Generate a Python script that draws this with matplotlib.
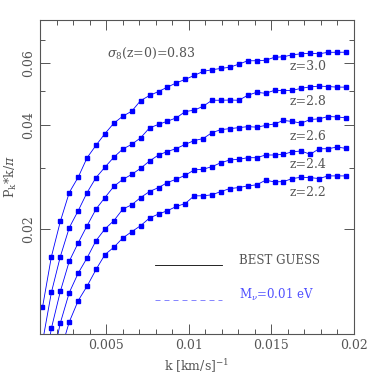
import matplotlib
matplotlib.use("Agg")
import matplotlib.pyplot as plt
from matplotlib.ticker import FixedLocator, MultipleLocator, NullFormatter

plt.rcParams["font.family"] = ["DejaVu Serif"]
plt.rcParams["mathtext.fontset"] = "dejavuserif"

# wavenumbers shared by every redshift curve
k = [0.00115, 0.00169, 0.00223, 0.00277, 0.00331, 0.00385, 0.00439, 0.00493,
     0.00547, 0.00601, 0.00655, 0.00709, 0.00763, 0.00817, 0.00871, 0.00925,
     0.00979, 0.01033, 0.01087, 0.01141, 0.01195, 0.01249, 0.01303, 0.01357,
     0.01411, 0.01465, 0.01519, 0.01573, 0.01627, 0.01681, 0.01735, 0.01789,
     0.01843, 0.01897, 0.01951]

pk_z30 = [0.01193, 0.01670, 0.02108, 0.02552, 0.02824, 0.03214, 0.03490, 0.03770,
          0.04040, 0.04231, 0.04373, 0.04692, 0.04853, 0.04982, 0.05129, 0.05276,
          0.05400, 0.05543, 0.05691, 0.05756, 0.05805, 0.05852, 0.05972, 0.06108,
          0.06108, 0.06128, 0.06250, 0.06271, 0.06354, 0.06396, 0.06418, 0.06396,
          0.06460, 0.06460, 0.06464]
pk_z28 = [0.00948, 0.01318, 0.01670, 0.02022, 0.02262, 0.02552, 0.02817, 0.03019,
          0.03225, 0.03404, 0.03511, 0.03667, 0.03917, 0.04006, 0.04094, 0.04184,
          0.04364, 0.04402, 0.04519, 0.04702, 0.04702, 0.04708, 0.04702, 0.04859,
          0.04956, 0.04923, 0.05021, 0.05011, 0.05021, 0.05089, 0.05139, 0.05162,
          0.05150, 0.05129, 0.05129]
pk_z26 = [0.00737, 0.01039, 0.01326, 0.01619, 0.01828, 0.02049, 0.02287, 0.02469,
          0.02658, 0.02784, 0.02877, 0.02997, 0.03145, 0.03272, 0.03348, 0.03415,
          0.03511, 0.03600, 0.03648, 0.03795, 0.03871, 0.03896, 0.03922, 0.03948,
          0.03935, 0.03979, 0.04021, 0.04113, 0.04086, 0.04040, 0.04140, 0.04157,
          0.04222, 0.04211, 0.04184]
pk_z24 = [0.00567, 0.00814, 0.01076, 0.01315, 0.01496, 0.01656, 0.01856, 0.02005,
          0.02118, 0.02287, 0.02353, 0.02469, 0.02569, 0.02637, 0.02726, 0.02788,
          0.02862, 0.02964, 0.02978, 0.03029, 0.03110, 0.03166, 0.03180, 0.03214,
          0.03214, 0.03272, 0.03272, 0.03287, 0.03344, 0.03359, 0.03287, 0.03410,
          0.03410, 0.03449, 0.03419]
pk_z22 = [0.00465, 0.00668, 0.00887, 0.01083, 0.01247, 0.01373, 0.01533, 0.01692,
          0.01776, 0.01889, 0.01969, 0.02049, 0.02156, 0.02213, 0.02262, 0.02327,
          0.02373, 0.02497, 0.02497, 0.02514, 0.02569, 0.02620, 0.02637, 0.02667,
          0.02685, 0.02769, 0.02738, 0.02744, 0.02799, 0.02824, 0.02817, 0.02799,
          0.02849, 0.02849, 0.02849]

series = [pk_z30, pk_z28, pk_z26, pk_z24, pk_z22]
labels = ["z=3.0", "z=2.8", "z=2.6", "z=2.4", "z=2.2"]
label_y = [0.0588, 0.0467, 0.0371, 0.0308, 0.0256]

grey = "#555555"
blue = "#0000ff"

fig = plt.figure(figsize=(3.74, 3.74), dpi=100)
ax = fig.add_axes([0.107, 0.107, 0.8395, 0.8395])

for pk in series:
    ax.plot(k, pk, color=blue, lw=0.6, marker="s", ms=3.4, mec=blue, mfc=blue)

for lab, yl in zip(labels, label_y):
    ax.text(0.0172, yl, lab, color=grey, fontsize=9, ha="center", va="center")

ax.text(0.0077, 0.0641, r"$\sigma_8$(z=0)=0.83", color=grey, fontsize=9,
        ha="center", va="center")

# legend drawn by hand like the original
ax.plot([0.00797, 0.01202], [0.01584, 0.01584], color="black", lw=0.6)
ax.text(0.01305, 0.01626, "BEST GUESS", color=grey, fontsize=8.5, va="center")
ax.plot([0.00797, 0.01202], [0.01255, 0.01255], color="#7070ff", lw=0.6,
        dashes=(6, 4.8))
ax.text(0.01305, 0.01292, r"M$_\nu$=0.01 eV", color="#5050ff", fontsize=8.5,
        va="center")

ax.set_yscale("log")
ax.set_xlim(0.001, 0.02)
ax.set_ylim(0.01, 0.08)
ax.xaxis.set_major_locator(FixedLocator([0.005, 0.01, 0.015, 0.02]))
ax.xaxis.set_minor_locator(MultipleLocator(0.001))
ax.set_xticklabels(["0.005", "0.01", "0.015", "0.02"])
ax.yaxis.set_major_locator(FixedLocator([0.02, 0.04, 0.06]))
ax.yaxis.set_minor_locator(FixedLocator([0.03, 0.05, 0.07]))
ax.yaxis.set_minor_formatter(NullFormatter())
ax.set_yticklabels(["0.02", "0.04", "0.06"], rotation=90, va="center")

ax.tick_params(which="both", direction="in", top=True, right=True,
               colors=grey, labelsize=9, width=0.7)
ax.tick_params(which="major", length=7)
ax.tick_params(which="minor", length=3.5)
for s in ax.spines.values():
    s.set_color(grey)
    s.set_linewidth(0.8)

ax.set_xlabel(r"k [km/s]$^{-1}$", color=grey, fontsize=9, labelpad=4)
ax.set_ylabel(r"P$_{\rm k}$*k/$\pi$", color=grey, fontsize=9, labelpad=2)

fig.savefig("out.png", dpi=100)
